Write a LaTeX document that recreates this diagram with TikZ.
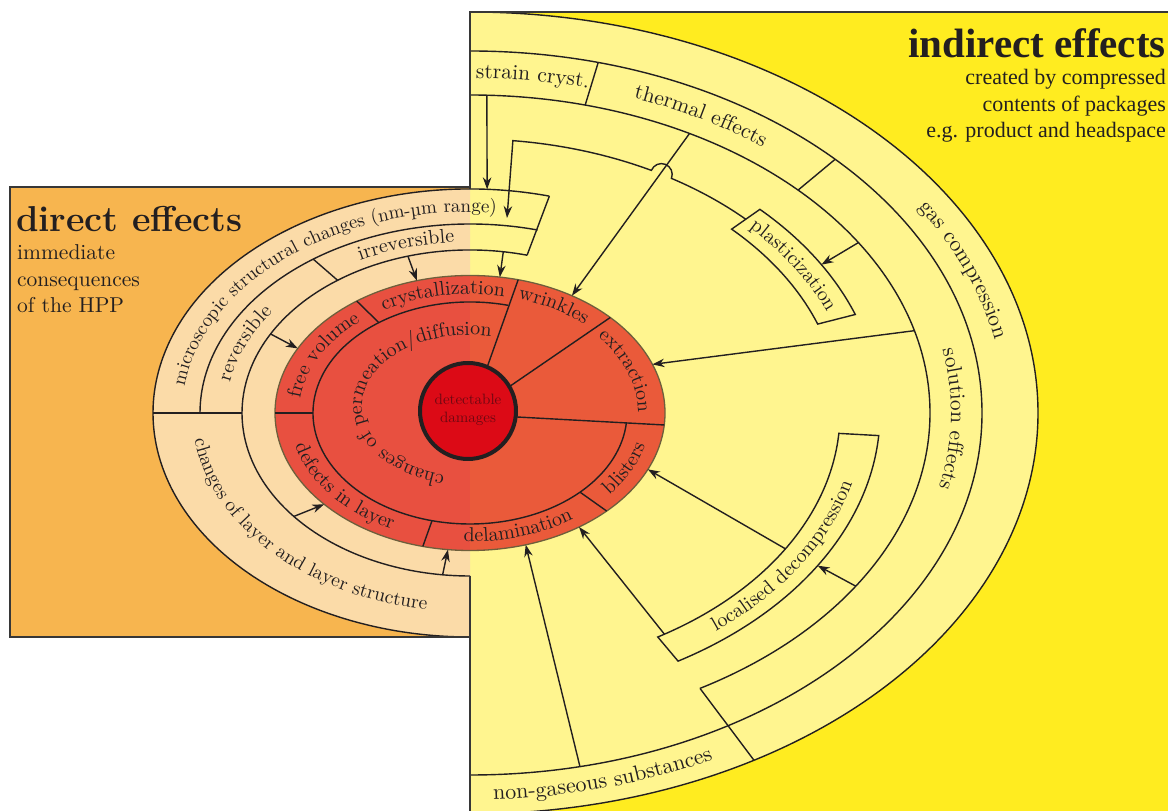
\documentclass[tikz,border=0pt]{standalone}
\usepackage{fontspec}
\newfontfamily\timesf{Liberation Serif}
\newfontfamily\labfont{lmroman10-regular.otf}
\usetikzlibrary{arrows.meta,decorations.text,calc}
\definecolor{ybright}{RGB}{255,236,32}
\definecolor{ylight}{RGB}{255,245,143}
\definecolor{orng}{RGB}{247,181,79}
\definecolor{peach}{RGB}{251,219,168}
\definecolor{redL}{RGB}{232,80,64}
\definecolor{redR}{RGB}{234,90,58}
\definecolor{dmg}{RGB}{220,10,22}
\definecolor{dmgtext}{RGB}{110,8,18}
\definecolor{rim}{RGB}{110,95,60}
\definecolor{ink}{RGB}{35,31,32}
\definecolor{framec}{RGB}{55,55,55}
\tikzset{
  band/.style={line width=1.4pt, draw=ink},
  conn/.style={line width=1.4pt, draw=ink, -{Stealth[length=12pt,width=8.5pt]}},
  frameline/.style={line width=1.6pt, draw=framec},
}
\newcommand\ringlabel[7]{%
  \path[decorate,decoration={text along path,text align=center,text color=ink,
    text={|\labfont\fontsize{#6}{#6}\selectfont|#7}}]
    ($(#1)+(#4:#2 and #3)$) arc[start angle=#4,end angle=#5,x radius=#2,y radius=#3];}
\begin{document}
\begin{tikzpicture}[x=1pt,y=1pt]
\useasboundingbox (0,0) rectangle (1168,811);
\clip (0,0) rectangle (1168,811);
\fill[white] (0,0) rectangle (1168,811);
\fill[ybright] (470,0) rectangle (1168,799);
\fill[orng] (10,174) rectangle (470,624);
\coordinate (C) at (470,398);
\coordinate (Cc) at (468,400);
\coordinate (Ct) at (470,405);
% half ellipses
\fill[ylight] ($(C)+(90:568 and 401)$) arc[start angle=90,end angle=-90,x radius=568,y radius=401] -- cycle;
\fill[peach] ($(C)+(90:317 and 224)$) arc[start angle=90,end angle=270,x radius=317,y radius=224] -- cycle;
% red ellipse
\begin{scope}
  \clip (0,0) rectangle (470,811);
  \fill[redL] (C) ellipse[x radius=195,y radius=137.5];
\end{scope}
\begin{scope}
  \clip (470,0) rectangle (1168,811);
  \fill[redR] (C) ellipse[x radius=195,y radius=137.5];
\end{scope}
\draw[rim,line width=1.3pt] (C) ellipse[x radius=195,y radius=137.5];
% right bands
\draw[band] ($(C)+(90:568 and 401)$) arc[start angle=90,end angle=-95,x radius=568,y radius=401];
\draw[band] ($(C)+(90:512 and 362)$) arc[start angle=90,end angle=-90,x radius=512,y radius=362];
\draw[band] ($(C)+(90:460 and 318)$) arc[start angle=90,end angle=-60,x radius=460,y radius=318];
\draw[band] ($(C)+(75.5:460 and 318)$) -- ($(C)+(75.5:512 and 362)$);
\draw[band] ($(C)+(44.5:460 and 318)$) -- ($(C)+(44.5:512 and 362)$);
\draw[band] ($(C)+(-60:460 and 318)$) -- ($(C)+(-60:568 and 401)$);
% boxes
\draw[band] ($(C)+(45:410 and 288)$) arc[start angle=45,end angle=20,x radius=410,y radius=288]
  -- ($(C)+(20:370 and 260)$) arc[start angle=20,end angle=45,x radius=370,y radius=260] -- cycle;
\draw[band] ($(C)+(-4.5:410 and 288)$) arc[start angle=-4.5,end angle=-59.5,x radius=410,y radius=288]
  -- ($(C)+(-59.5:370 and 260)$) arc[start angle=-59.5,end angle=-4.5,x radius=370,y radius=260] -- cycle;
% left bands
\draw[band] ($(C)+(75.5:317 and 224)$) arc[start angle=75.5,end angle=270,x radius=317,y radius=224];
\draw[band] ($(C)+(75.5:270 and 189)$) arc[start angle=75.5,end angle=180,x radius=270,y radius=189];
\draw[band] ($(C)+(75.5:228 and 163)$) arc[start angle=75.5,end angle=270,x radius=228,y radius=163];
\draw[band] ($(C)+(75.5:228 and 163)$) -- ($(C)+(75.5:317 and 224)$);
\draw[band] ($(C)+(180:317 and 224)$) -- ($(C)+(180:228 and 163)$);
\draw[band] ($(C)+(125.5:270 and 189)$) -- ($(C)+(125.5:228 and 163)$);
% red ring
\draw[band] ($(C)+(76:157 and 111)$) arc[start angle=76,end angle=355,x radius=157,y radius=111];
\draw[band] ($(C)+(180:195 and 137.5)$) -- ($(C)+(180:157 and 111)$);
\draw[band] ($(C)+(125.5:195 and 137.5)$) -- ($(C)+(125.5:157 and 111)$);
\draw[band] ($(C)+(75.7:195 and 137.5)$) -- ($(Cc)+(66.5:49)$);
\draw[band] ($(C)+(44:195 and 137.5)$) -- ($(Cc)+(30.6:49)$);
\draw[band] ($(C)+(-5:195 and 137.5)$) -- ($(Cc)+(-7:49)$);
\draw[band] ($(C)+(-45.5:195 and 137.5)$) -- ($(C)+(-45.5:157 and 111)$);
\draw[band] ($(C)+(-104:195 and 137.5)$) -- ($(C)+(-104:157 and 111)$);
% circle
\draw[line width=4pt,draw=ink,fill=dmg] (Cc) circle[radius=48];
\node[align=center,text=dmgtext,font=\labfont\fontsize{15}{18}\selectfont] (dd) at (468,401) {detectable\\damages};
% connector coordinates
\coordinate (sA) at ($(C)+(87.9:460 and 318)$);
\coordinate (sB) at ($(C)+(86.9:317 and 224)$);
\coordinate (pA) at ($(C)+(45:390 and 274)$);
\coordinate (pTip) at (507,593);
\coordinate (tA) at ($(C)+(61.5:460 and 318)$);
\coordinate (tB) at ($(C)+(58.5:195 and 137.5)$);
\coordinate (eA) at ($(C)+(81.6:228 and 163)$);
\coordinate (eB) at ($(C)+(81.2:195 and 137.5)$);
\coordinate (iA) at ($(C)+(105.8:228 and 163)$);
\coordinate (iB) at ($(C)+(105.8:195 and 137.5)$);
\coordinate (rA) at ($(C)+(151:228 and 163)$);
\coordinate (rB) at ($(C)+(152:195 and 137.5)$);
\coordinate (lA) at ($(C)+(219.4:228 and 163)$);
\coordinate (lB) at ($(C)+(221.6:195 and 137.5)$);
\coordinate (mA) at ($(C)+(263.1:228 and 163)$);
\coordinate (mB) at ($(C)+(263.5:195 and 137.5)$);
\coordinate (xA) at ($(C)+(15:460 and 318)$);
\coordinate (xB) at ($(C)+(20.7:195 and 137.5)$);
\coordinate (qA) at ($(C)+(32.4:460 and 318)$);
\coordinate (qB) at ($(C)+(31:410 and 288)$);
\coordinate (dA) at ($(C)+(-33:460 and 318)$);
\coordinate (dB) at ($(C)+(-32:410 and 288)$);
\coordinate (bA) at ($(C)+(-31.5:370 and 260)$);
\coordinate (bB) at ($(C)+(-24.2:195 and 137.5)$);
\coordinate (hA) at ($(C)+(-58.3:370 and 260)$);
\coordinate (hB) at ($(C)+(-56:195 and 137.5)$);
\coordinate (gA) at ($(C)+(-77.6:512 and 362)$);
\coordinate (gB) at ($(C)+(-73.4:195 and 137.5)$);
% connectors
\draw[conn] (sA) -- (sB);
\draw[conn] (pA) arc[start angle=45,end angle=58.9,x radius=390,y radius=274]
  arc[start angle=-21.7,end angle=158.3,radius=10.8]
  arc[start angle=62.3,end angle=83.7,x radius=390,y radius=274] -- (pTip);
\draw[conn] (tA) -- (tB);
\draw[conn] (eA) -- (eB);
\draw[conn] (iA) -- (iB);
\draw[conn] (rA) -- (rB);
\draw[conn] (lA) -- (lB);
\draw[conn] (mA) -- (mB);
\draw[conn] (xA) -- (xB);
\draw[conn] (qA) -- (qB);
\draw[conn] (dA) -- (dB);
\draw[conn] (bA) -- (bB);
\draw[conn] (hA) -- (hB);
\draw[conn] (gA) -- (gB);
% frames
\draw[frameline] (470,0) -- (470,235);
\draw[frameline] (470,622) -- (470,799) -- (1168,799);
\draw[frameline] (470,624) -- (10,624) -- (10,174) -- (470,174);
% titles
\node[anchor=base west,inner sep=0,text=ink,font=\fontsize{36}{36}\selectfont\bfseries] (dt) at (16,579) {direct effects};
\node[anchor=base west,inner sep=0,text=ink,font=\labfont\fontsize{21.5}{21.5}\selectfont] (d1) at (17,551) {immediate};
\node[anchor=base west,inner sep=0,text=ink,font=\labfont\fontsize{21.5}{21.5}\selectfont] (d2) at (17,524) {consequences};
\node[anchor=base west,inner sep=0,text=ink,font=\labfont\fontsize{21.5}{21.5}\selectfont] (d3) at (17,498) {of the HPP};
\node[anchor=base east,inner sep=0,text=ink,font=\timesf\fontsize{41}{41}\selectfont\bfseries] (it) at (1166,753) {indirect effects};
\node[anchor=base east,inner sep=0,text=ink,font=\timesf\fontsize{22}{22}\selectfont] (i1) at (1166,726) {created by compressed};
\node[anchor=base east,inner sep=0,text=ink,font=\timesf\fontsize{22}{22}\selectfont] (i2) at (1166,699) {contents of packages};
\node[anchor=base east,inner sep=0,text=ink,font=\timesf\fontsize{22}{22}\selectfont] (i3) at (1166,673) {e.g. product and headspace};
% curved labels
\ringlabel{C}{288}{201}{193}{70}{19}{microscopic structural changes (nm-µm range{)}}
\ringlabel{C}{244}{171}{125}{86}{20}{irreversible}
\ringlabel{C}{244}{171}{178}{137}{20}{reversible}
\ringlabel{C}{278}{199}{178}{268}{19.5}{changes of layer and layer structure}
\ringlabel{C}{171}{119}{178}{126}{20}{free volume}
\ringlabel{C}{171}{119}{124}{75}{20}{crystallization}
\ringlabel{C}{171}{119}{78}{43}{20}{wrinkles}
\ringlabel{C}{168}{117}{44}{-4}{20}{extraction}
\ringlabel{C}{181}{129}{-46}{-7}{20}{blisters}
\ringlabel{C}{181}{129}{-102}{-44}{20}{delamination}
\ringlabel{C}{181}{129}{182}{254}{20}{defects in layer}
\ringlabel{Ct}{108}{71}{265}{70}{20}{changes of permeation/diffusion}
\ringlabel{C}{481}{335}{92}{73}{21.5}{strain cryst.}
\ringlabel{C}{481}{335}{76}{46}{21.5}{thermal effects}
\ringlabel{C}{481}{335}{20}{-22}{21.5}{solution effects}
\ringlabel{C}{535}{376}{46}{-4}{22}{gas compression}
\ringlabel{C}{545}{387}{-100}{-50}{22}{non-gaseous substances}
\ringlabel{C}{385}{269}{46}{19}{20}{plasticization}
\ringlabel{C}{395}{279}{-59}{-5}{20}{localised decompression}
\end{tikzpicture}
\end{document}
